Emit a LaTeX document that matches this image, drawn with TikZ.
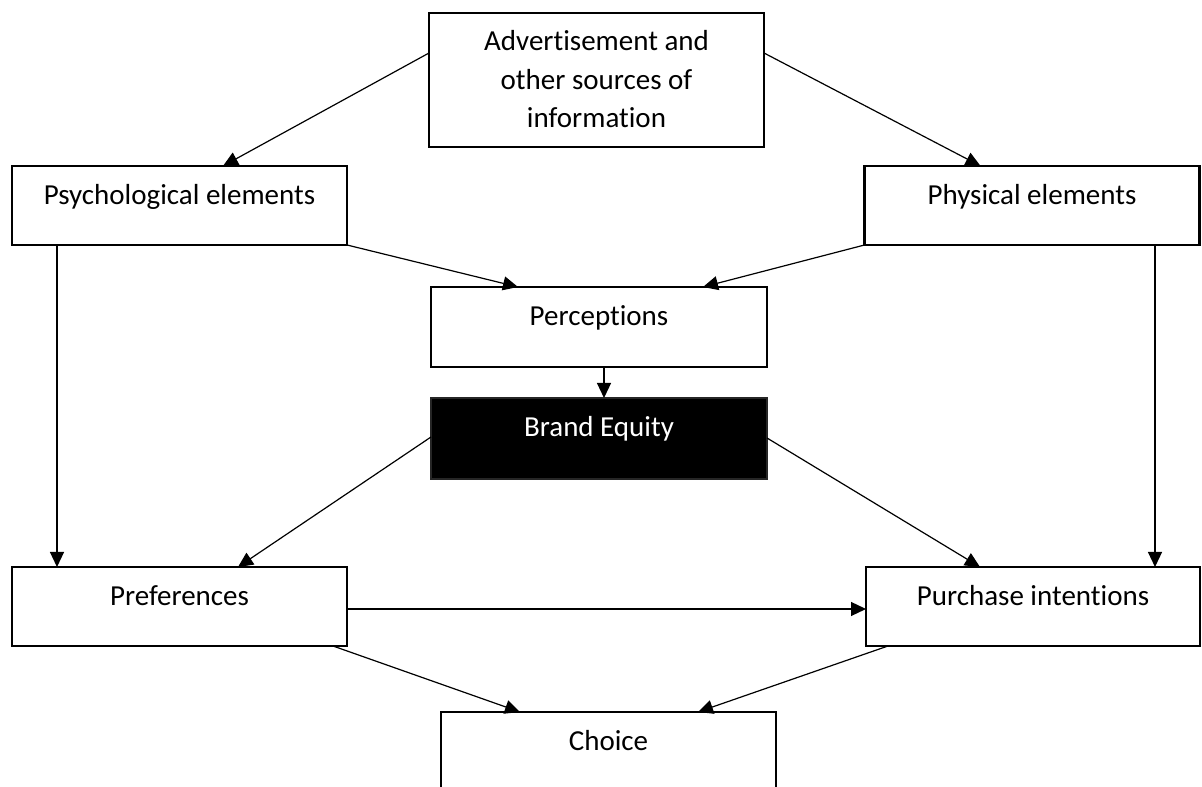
\documentclass[tikz,border=0pt]{standalone}
\usepackage{fontspec}
\setmainfont{Carlito}[Ligatures=NoCommon]
\usetikzlibrary{calc,arrows.meta}

\begin{document}
\begin{tikzpicture}[x=1pt,y=1pt,
  box/.style={draw=black, line width=2.5pt, fill=white, inner sep=0pt, outer sep=0pt},
  darkbox/.style={box, fill=black, draw=black!85},
  txt/.style={font=\fontsize{29}{38.5}\selectfont, anchor=base, align=center, inner sep=0pt},
  link/.style={line width=1.2pt, -{Triangle[length=15pt,width=14pt]}}
]
\useasboundingbox (0,0) rectangle (1202,787);

% boxes
\node[box, minimum width=335pt, minimum height=134pt] (adv)    at (596.5,707)   {};
\node[box, minimum width=335pt, minimum height=79pt]  (psych)  at (179.5,581.5) {};
\node[box, minimum width=335pt, minimum height=79pt]  (phys)   at (1032,581.5)  {};
\node[box, minimum width=336pt, minimum height=80pt]  (perc)   at (599,460)     {};
\node[darkbox, minimum width=336pt, minimum height=81pt] (brand) at (599,348.5) {};
\node[box, minimum width=335pt, minimum height=79pt]  (pref)   at (179.5,180.5) {};
\node[box, minimum width=334pt, minimum height=79pt]  (purch)  at (1033,180.5)  {};
\node[box, minimum width=335pt, minimum height=80pt]  (choice) at (608.5,35)    {};

% texts, set near the top of each box (base = baseline of the last line)
\node[txt] (advt)    at ($(adv.north)+(0,-115)$)   {Advertisement and\\other sources of\\information};
\node[txt] (psycht)  at ($(psych.north)+(0,-39)$)  {Psychological elements};
\node[txt] (physt)   at ($(phys.north)+(0,-39)$)   {Physical elements};
\node[txt] (perct)   at ($(perc.north)+(0,-39)$)   {Perceptions};
\node[txt, text=white] (brandt) at ($(brand.north)+(0,-39)$) {Brand Equity};
\node[txt] (preft)   at ($(pref.north)+(0,-39)$)   {Preferences};
\node[txt] (purcht)  at ($(purch.north)+(0,-39)$)  {Purchase intentions};
\node[txt] (choicet) at ($(choice.north)+(0,-39)$) {Choice};

% connectors
\draw[link] ($(adv.north west)+(0,-40)$) -- ($(psych.north west)+(211,0)$);
\draw[link] ($(adv.north east)+(0,-40)$) -- ($(phys.north west)+(116,0)$);
\draw[link] (psych.south east) -- ($(perc.north west)+(87,0)$);
\draw[link] (phys.south west) -- ($(perc.north west)+(272,0)$);
\draw[link] ($(perc.south west)+(173,0)$) -- ($(brand.north west)+(173,0)$);
\draw[link] ($(psych.south west)+(45,0)$) -- ($(pref.north west)+(45,0)$);
\draw[link] ($(phys.south west)+(290.5,0)$) -- ($(purch.north west)+(289,0)$);
\draw[link] ($(brand.north west)+(0,-39)$) -- ($(pref.north west)+(226,0)$);
\draw[link] ($(brand.north east)+(0,-40)$) -- ($(purch.north west)+(114,0)$);
\draw[link] ($(pref.north east)+(0,-42)$) -- ($(purch.north west)+(0,-42)$);
\draw[link] ($(pref.south west)+(321,0)$) -- ($(choice.north west)+(79,0)$);
\draw[link] ($(purch.south west)+(22,0)$) -- ($(choice.north west)+(257,0)$);
\end{tikzpicture}
\end{document}
